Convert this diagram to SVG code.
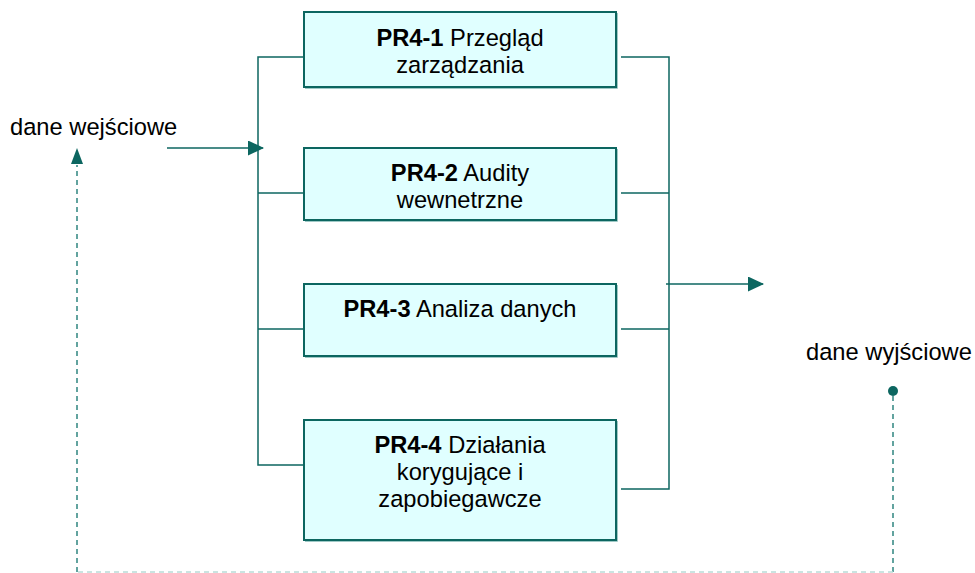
<svg xmlns="http://www.w3.org/2000/svg" width="975" height="573" viewBox="0 0 975 573">
<style>
.box{fill:#e0ffff;stroke:#0c6660;stroke-width:2}
.shadow{fill:none;stroke:#9fc9c6;stroke-width:1}
.ln{fill:none;stroke:#0c6660;stroke-width:1.5}
.dash{fill:none;stroke:#2f8580;stroke-width:1.5;stroke-dasharray:5 4}
.dashl{fill:none;stroke:#b9dcd8;stroke-width:1.5;stroke-dasharray:5 4}
text{font-family:"Liberation Sans",Arial,sans-serif;font-size:23.7px;fill:#000}
.b{font-weight:bold}
</style>
<defs>
<marker id="ah" markerWidth="16" markerHeight="15" refX="15" refY="7.5" orient="auto" markerUnits="userSpaceOnUse">
<path d="M0,0 L16,7.5 L0,15 Z" fill="#0c6660"/>
</marker>
</defs>
<g id="connectors">
<path class="ln" d="M304,57 H258 V465 H304"/>
<path class="ln" d="M258,193 H307"/>
<path class="ln" d="M258,329 H307"/>
<path class="ln" d="M621,57 H669 V489 H621"/>
<path class="ln" d="M621,193 H669"/>
<path class="ln" d="M621,329 H669"/>
<path class="ln" d="M167,148 H263" marker-end="url(#ah)"/>
<path class="ln" d="M666,284 H763" marker-end="url(#ah)"/>
<circle cx="893" cy="391" r="5" fill="#0c6660"/>
<path class="dash" d="M893,396 V572"/>
<path class="dashl" d="M893,572 H77"/>
<path class="dash" d="M77,572 V165"/>
<path d="M77,148 L71,164 L83,164 Z" fill="#0c6660"/>
</g>
<g id="pr41">
<rect class="box" x="304" y="12" width="312" height="75"/>
<path class="shadow" d="M305,88.5 H617.5 V13"/>
<text x="460" y="46" text-anchor="middle"><tspan class="b">PR4-1</tspan> Przegląd</text>
<text x="460" y="73" text-anchor="middle">zarządzania</text>
</g>
<g id="pr42">
<rect class="box" x="304" y="148" width="312" height="72"/>
<path class="shadow" d="M305,221.5 H617.5 V149"/>
<text x="460" y="181" text-anchor="middle"><tspan class="b">PR4-2</tspan> Audity</text>
<text x="460" y="208" text-anchor="middle">wewnetrzne</text>
</g>
<g id="pr43">
<rect class="box" x="304" y="284" width="312" height="72"/>
<path class="shadow" d="M305,357.5 H617.5 V285"/>
<text x="460" y="317" text-anchor="middle"><tspan class="b">PR4-3</tspan> Analiza danych</text>
</g>
<g id="pr44">
<rect class="box" x="304" y="420" width="312" height="120"/>
<path class="shadow" d="M305,541.5 H617.5 V421"/>
<text x="460" y="453" text-anchor="middle"><tspan class="b">PR4-4</tspan> Działania</text>
<text x="460" y="480" text-anchor="middle">korygujące i</text>
<text x="460" y="507" text-anchor="middle">zapobiegawcze</text>
</g>
<g id="labels">
<text x="10" y="135">dane wejściowe</text>
<text x="806" y="360">dane wyjściowe</text>
</g>
</svg>
